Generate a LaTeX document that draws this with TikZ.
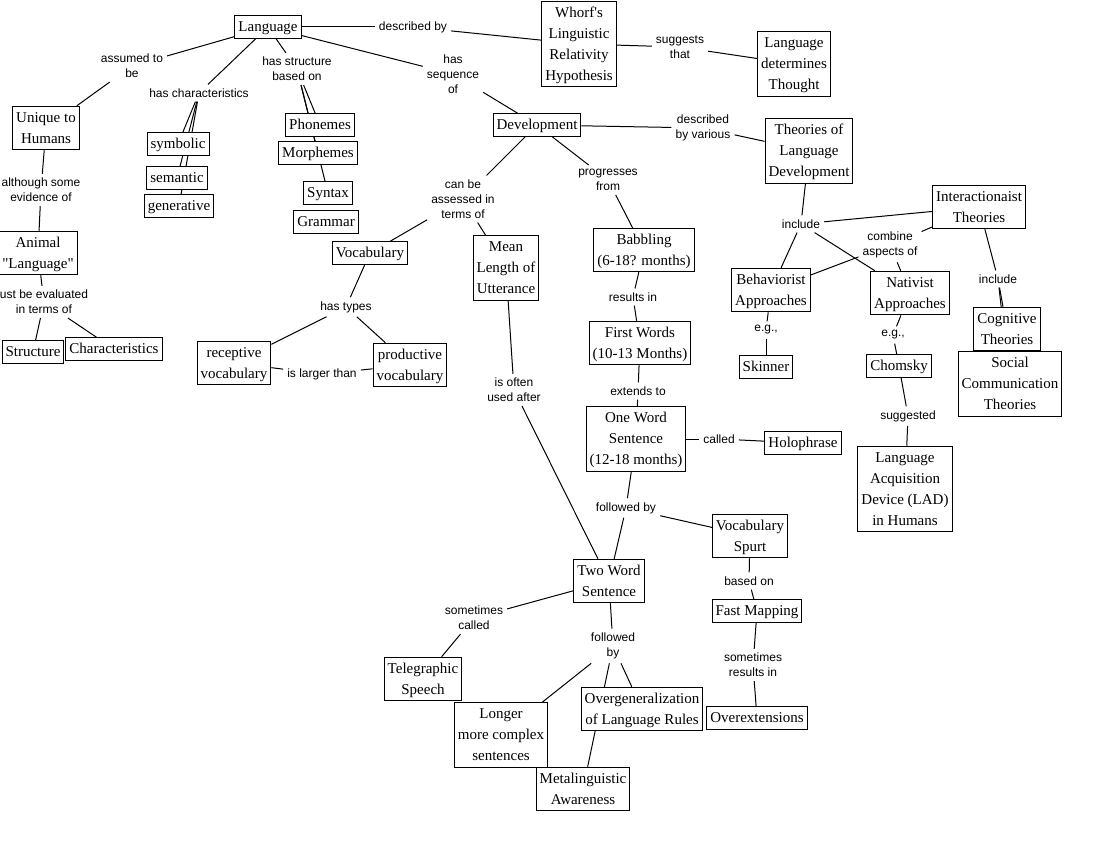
\documentclass[tikz,border=0pt]{standalone}
\usepackage{fontspec}
\setmainfont{Liberation Serif}[Ligatures=TeXOff]
\newfontfamily\lblfont{Liberation Sans}
\pgfdeclarelayer{edges}
\pgfsetlayers{edges,main}
\newcommand{\mystrut}{\rule[-5pt]{0pt}{19.5pt}}
\newcommand{\B}[1]{\mystrut#1\mystrut}
\tikzset{
  box/.style={draw, line width=1pt, fill=white, align=center,
    font=\fontsize{15}{21}\selectfont, inner xsep=3.5pt, inner ysep=1.5pt},
  lbl/.style={align=center, font=\lblfont\fontsize{12}{15}\selectfont, inner sep=4pt},
  link/.style={line width=1pt, black}
}
\begin{document}
\begin{tikzpicture}[x=1pt,y=-1pt]
\useasboundingbox (0,0) rectangle (1101,850);
% concepts
\node[box] (lang) at (268,27) {\B{Language}};
\node[box] (whorf) at (579,44) {\B{Whorf's\\Linguistic\\Relativity\\Hypothesis}};
\node[box] (ldt) at (794,64) {\B{Language\\determines\\Thought}};
\node[box] (unique) at (46,128) {\B{Unique to\\Humans}};
\node[box] (animal) at (38,253) {\B{Animal\\"Language"}};
\node[box] (structure) at (33,352) {\B{Structure}};
\node[box] (charac) at (114,349) {\B{Characteristics}};
\node[box] (symbolic) at (178,144) {\B{symbolic}};
\node[box] (semantic) at (177,178) {\B{semantic}};
\node[box] (generative) at (179,206) {\B{generative}};
\node[box] (phonemes) at (320,125) {\B{Phonemes}};
\node[box] (morphemes) at (318,153) {\B{Morphemes}};
\node[box] (syntax) at (328,193) {\B{Syntax}};
\node[box] (grammar) at (326,222) {\B{Grammar}};
\node[box] (dev) at (537,125) {\B{Development}};
\node[box] (theories) at (809,151) {\B{Theories of\\Language\\Development}};
\node[box] (vocab) at (370,253) {\B{Vocabulary}};
\node[box] (mlu) at (506,268) {\B{Mean\\Length of\\Utterance}};
\node[box] (receptive) at (234,363) {\B{receptive\\vocabulary}};
\node[box] (productive) at (410,365) {\B{productive\\vocabulary}};
\node[box] (babbling) at (644,250) {\B{Babbling\\(6-18? months)}};
\node[box] (firstwords) at (640,343) {\B{First Words\\(10-13 Months)}};
\node[box] (oneword) at (636,439) {\B{One Word\\Sentence\\(12-18 months)}};
\node[box] (holophrase) at (803,443) {\B{Holophrase}};
\node[box] (vspurt) at (750,536) {\B{Vocabulary\\Spurt}};
\node[box] (twoword) at (609,581) {\B{Two Word\\Sentence}};
\node[box] (fastmap) at (757,611) {\B{Fast Mapping}};
\node[box] (telegraphic) at (423,679) {\B{Telegraphic\\Speech}};
\node[box] (longer) at (501,735) {\B{Longer\\more complex\\sentences}};
\node[box] (overgen) at (642,709) {\B{Overgeneralization\\of Language Rules}};
\node[box] (overext) at (757,718) {\B{Overextensions}};
\node[box] (meta) at (583,789) {\B{Metalinguistic\\Awareness}};
\node[box] (interact) at (979,207) {\B{Interactionaist\\Theories}};
\node[box] (behav) at (771,290) {\B{Behaviorist\\Approaches}};
\node[box] (nativ) at (910,293) {\B{Nativist\\Approaches}};
\node[box] (cognitive) at (1007,329) {\B{Cognitive\\Theories}};
\node[box] (social) at (1010,384) {\B{Social\\Communication\\Theories}};
\node[box] (skinner) at (766,367) {\B{Skinner}};
\node[box] (chomsky) at (899,366) {\B{Chomsky}};
\node[box] (lad) at (905,489) {\B{Language\\Acquisition\\Device (LAD)\\in Humans}};
% linking phrases
\node[lbl] (ldescby) at (413,27) {described by};
\node[lbl] (lsuggests) at (680,47) {suggests\\that};
\node[lbl] (lassumed) at (132,66) {assumed to\\be};
\node[lbl] (lhaschar) at (199,93) {has characteristics};
\node[lbl] (lhasstruct) at (297,69) {has structure\\based on};
\node[lbl] (lhasseq) at (453,74) {has\\sequence\\of};
\node[lbl] (lalthough) at (41,190) {although some\\evidence of};
\node[lbl] (lmust) at (44,302) {ust be evaluated\\in terms of};
\node[lbl] (ldescvar) at (703,128) {described\\by various};
\node[lbl] (lassessed) at (463,199) {can be\\assessed in\\terms of};
\node[lbl] (lprogresses) at (608,180) {progresses\\from};
\node[lbl] (lhastypes) at (346,307) {has types};
\node[lbl] (llarger) at (322,374) {is larger than};
\node[lbl] (loftenused) at (514,390) {is often\\used after};
\node[lbl] (lresults) at (633,297) {results in};
\node[lbl] (lextends) at (638,391) {extends to};
\node[lbl] (lcalled) at (719,439) {called};
\node[lbl] (lfollowedA) at (626,508) {followed by};
\node[lbl] (lbasedon) at (749,581) {based on};
\node[lbl] (lsomcalled) at (474,618) {sometimes\\called};
\node[lbl] (lfollowedB) at (613,646) {followed\\by};
\node[lbl] (lsomresults) at (753,665) {sometimes\\results in};
\node[lbl] (lincludeA) at (801,224) {include};
\node[lbl] (lcombine) at (890,245) {combine\\aspects of};
\node[lbl] (lincludeB) at (998,279) {include};
\node[lbl] (legA) at (766,330) {e.g.,};
\node[lbl] (legB) at (893,335) {e.g.,};
\node[lbl] (lsuggested) at (908,416) {suggested};
% connectors
\begin{pgfonlayer}{edges}
\fill[white] (0,0) rectangle (1101,850);
\draw[link] (lang) -- (ldescby);
\draw[link] (ldescby) -- (whorf);
\draw[link] (whorf) -- (lsuggests);
\draw[link] (lsuggests) -- (ldt);
\draw[link] (lang) -- (lassumed);
\draw[link] (lassumed) -- (unique);
\draw[link] (lang) -- (lhaschar);
\draw[link] (lhaschar) -- (symbolic);
\draw[link] (lhaschar) -- (semantic);
\draw[link] (lhaschar) -- (generative);
\draw[link] (lang) -- (lhasstruct);
\draw[link] (lhasstruct) -- (phonemes);
\draw[link] (lhasstruct) -- (morphemes);
\draw[link] (lhasstruct) -- (syntax);
\draw[link] (lang) -- (lhasseq);
\draw[link] (lhasseq) -- (dev);
\draw[link] (unique) -- (lalthough);
\draw[link] (lalthough) -- (animal);
\draw[link] (animal) -- (lmust);
\draw[link] (lmust) -- (structure);
\draw[link] (lmust) -- (charac);
\draw[link] (dev) -- (ldescvar);
\draw[link] (ldescvar) -- (theories);
\draw[link] (dev) -- (lassessed);
\draw[link] (lassessed) -- (vocab);
\draw[link] (lassessed) -- (mlu);
\draw[link] (dev) -- (lprogresses);
\draw[link] (lprogresses) -- (babbling);
\draw[link] (vocab) -- (lhastypes);
\draw[link] (lhastypes) -- (receptive);
\draw[link] (lhastypes) -- (productive);
\draw[link] (receptive) -- (llarger);
\draw[link] (llarger) -- (productive);
\draw[link] (mlu) -- (loftenused);
\draw[link] (loftenused) -- (twoword);
\draw[link] (babbling) -- (lresults);
\draw[link] (lresults) -- (firstwords);
\draw[link] (firstwords) -- (lextends);
\draw[link] (lextends) -- (oneword);
\draw[link] (oneword) -- (lcalled);
\draw[link] (lcalled) -- (holophrase);
\draw[link] (oneword) -- (lfollowedA);
\draw[link] (lfollowedA) -- (twoword);
\draw[link] (lfollowedA) -- (vspurt);
\draw[link] (vspurt) -- (lbasedon);
\draw[link] (lbasedon) -- (fastmap);
\draw[link] (fastmap) -- (lsomresults);
\draw[link] (lsomresults) -- (overext);
\draw[link] (twoword) -- (lsomcalled);
\draw[link] (lsomcalled) -- (telegraphic);
\draw[link] (twoword) -- (lfollowedB);
\draw[link] (lfollowedB) -- (longer);
\draw[link] (lfollowedB) -- (overgen);
\draw[link] (lfollowedB) -- (meta);
\draw[link] (theories) -- (lincludeA);
\draw[link] (lincludeA) -- (interact);
\draw[link] (lincludeA) -- (behav);
\draw[link] (lincludeA) -- (nativ);
\draw[link] (interact) -- (lcombine);
\draw[link] (lcombine) -- (behav);
\draw[link] (lcombine) -- (nativ);
\draw[link] (interact) -- (lincludeB);
\draw[link] (lincludeB) -- (cognitive);
\draw[link] (lincludeB) -- (social);
\draw[link] (behav) -- (legA);
\draw[link] (legA) -- (skinner);
\draw[link] (nativ) -- (legB);
\draw[link] (legB) -- (chomsky);
\draw[link] (chomsky) -- (lsuggested);
\draw[link] (lsuggested) -- (lad);
\end{pgfonlayer}
\end{tikzpicture}
\end{document}
